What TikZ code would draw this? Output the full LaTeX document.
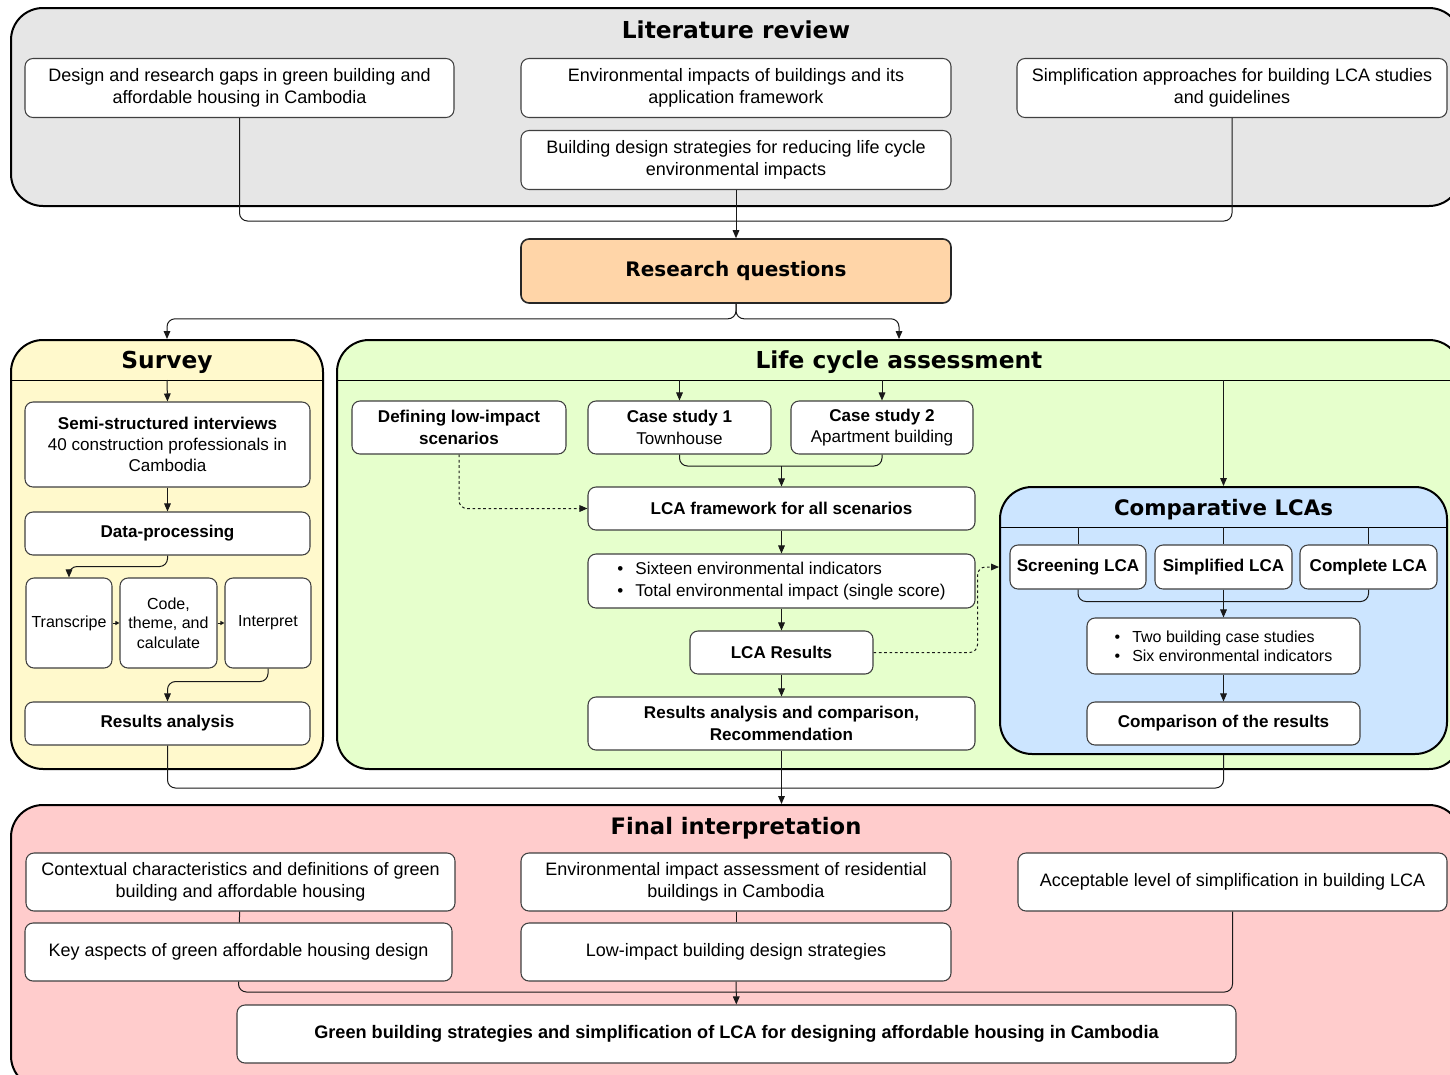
\documentclass[tikz,border=0pt]{standalone}
\usepackage{fontspec}
\setmainfont{Liberation Sans}
\newfontfamily\headfont{DejaVu Sans}
\usetikzlibrary{arrows.meta}

\definecolor{litgray}{HTML}{E6E6E6}
\definecolor{rqpeach}{HTML}{FFD5A8}
\definecolor{svyellow}{HTML}{FFF9CC}
\definecolor{lcagreen}{HTML}{E6FFCC}
\definecolor{cmpblue}{HTML}{CCE5FF}
\definecolor{finred}{HTML}{FFCCCC}

\tikzset{
  lane/.style={draw=black, line width=1.5pt, rounded corners=24pt, inner sep=0pt},
  box/.style={draw=black!75, fill=white, line width=0.8pt, rounded corners=6pt, align=center, inner sep=0pt},
  sz/.style 2 args={minimum width=#1*0.75pt, minimum height=#2*0.75pt},
  link/.style={draw=black!90, line width=0.75pt, rounded corners=6pt},
  arr/.style={link, -{Triangle[length=6pt,width=5pt]}},
  tinyarr/.style={link, -{Triangle[length=3pt,width=3pt]}},
  dotarr/.style={arr, dash pattern=on 2pt off 2pt},
  ttl/.style={font=\headfont\bfseries\fontsize{17.5}{20}\selectfont},
  txt/.style={font=\fontsize{13.5}{16.5}\selectfont},
  mid/.style={font=\fontsize{12.8}{16}\selectfont},
  sml/.style={font=\fontsize{12}{14.5}\selectfont},
}

\begin{document}
\begin{tikzpicture}[x=0.75pt,y=0.75pt,yscale=-1,xscale=1]
\useasboundingbox (0,0) rectangle (1450,1075);
\clip (0,0) rectangle (1450,1075);

% containers
\node[lane, fill=litgray, sz={1450}{198}] (litbox) at (736,107) {};
\node[lane, fill=svyellow, sz={312}{429}] (survey) at (167,554.5) {};
\node[lane, fill=lcagreen, sz={1124}{429}] (lca) at (899,554.5) {};
\node[lane, fill=cmpblue, sz={447}{267}] (comp) at (1223.5,620.5) {};
\node[lane, fill=finred, sz={1450}{283}] (final) at (736,946.5) {};

% header lines
\coordinate (svhead) at (167,380);
\coordinate (lcahead) at (899,380);
\coordinate (comphead) at (1223.5,527);
\draw[line width=0.6pt] (survey.west |- svhead) -- (survey.east |- svhead);
\draw[line width=0.6pt] (lca.west |- lcahead) -- (lca.east |- lcahead);
\draw[line width=0.6pt] (comp.west |- comphead) -- (comp.east |- comphead);

% titles
\node[ttl] (litttl) at (736,30) {Literature review};
\node[ttl] (svttl) at (167,362) {Survey};
\node[ttl] (lcattl) at (899,362) {Life cycle assessment};
\node[ttl, font=\headfont\bfseries\fontsize{16}{19}\selectfont] (compttl) at (1223.5,510) {Comparative LCAs};
\node[ttl, font=\headfont\bfseries\fontsize{17}{20}\selectfont] (finttl) at (736,828) {Final interpretation};

% literature review
\node[box, txt, sz={429}{59}] (gaps) at (239.5,88) {Design and research gaps in green building and\\affordable housing in Cambodia};
\node[box, txt, sz={430}{59}] (envimp) at (736,88) {Environmental impacts of buildings and its\\application framework};
\node[box, txt, sz={430}{59}] (simp) at (1232,88) {Simplification approaches for building LCA studies\\and guidelines};
\node[box, txt, sz={430}{59}] (strat) at (736,160) {Building design strategies for reducing life cycle\\environmental impacts};

% research questions
\node[box, fill=rqpeach, draw=black!85, line width=1.2pt, sz={430}{64}, font=\headfont\bfseries\fontsize{15}{18}\selectfont] (rq) at (736,271) {Research questions};

\coordinate (litjoin) at (736,221);
\draw[link] (gaps.south) |- (litjoin) -| (simp.south);
\draw[arr] (strat.south) -- (rq.north);
\draw[arr] (rq.south) -- ++(0,15) -| (survey.north);
\draw[arr] (rq.south) -- ++(0,15) -| (lca.north);

% survey
\node[box, mid, sz={285}{85}] (interviews) at (167.5,444.5) {\textbf{Semi-structured interviews}\\40 construction professionals in\\Cambodia};
\node[box, mid, sz={285}{43}] (dataproc) at (167.5,533.5) {\textbf{Data-processing}};
\node[box, sml, sz={86}{90}] (transcribe) at (69,623) {Transcripe};
\node[box, sml, sz={97}{90}] (coding) at (168.5,623) {Code,\\theme, and\\calculate};
\node[box, sml, sz={86}{90}] (interpret) at (268,623) {Interpret};
\node[box, mid, sz={285}{43}] (svresults) at (167.5,723.5) {\textbf{Results analysis}};

\draw[arr] (svhead) -- (interviews.north);
\draw[arr] (interviews) -- (dataproc);
\draw[arr] (dataproc.south) -- ++(0,11) -| (transcribe.north);
\draw[tinyarr] (transcribe) -- (coding);
\draw[tinyarr] (coding) -- (interpret);
\draw[arr] (interpret.south) -- ++(0,13) -| (svresults.north);

% life cycle assessment
\node[box, mid, sz={214}{53}] (lowimpact) at (459,427.5) {\textbf{Defining low-impact}\\\textbf{scenarios}};
\node[box, mid, sz={183}{53}] (case1) at (679.5,427.5) {\textbf{Case study 1}\\Townhouse};
\node[box, mid, sz={182}{53}] (case2) at (882,427.5) {\textbf{Case study 2}\\Apartment building};
\node[box, mid, sz={387}{43}] (framework) at (781.5,508.5) {\textbf{LCA framework for all scenarios}};
\node[box, mid, sz={387}{54}, align=left] (indicators) at (781.5,581) {\textbullet\hspace{9pt}Sixteen environmental indicators\\\textbullet\hspace{9pt}Total environmental impact (single score)};
\node[box, mid, sz={183}{43}] (lcares) at (781.5,652.5) {\textbf{LCA Results}};
\node[box, mid, sz={387}{53}] (recom) at (781.5,723.5) {\textbf{Results analysis and comparison,}\\\textbf{Recommendation}};

\coordinate (casejoin) at (781.5,466);
\draw[arr] (case1.north |- lcahead) -- (case1.north);
\draw[arr] (case2.north |- lcahead) -- (case2.north);
\draw[link] (case1.south) |- (casejoin) -| (case2.south);
\draw[arr] (casejoin) -- (framework.north);
\draw[dotarr] (lowimpact.south) |- (framework.west);
\draw[arr] (framework) -- (indicators);
\draw[arr] (indicators) -- (lcares);
\draw[arr] (lcares) -- (recom);
\draw[arr] (comp.north |- lcahead) -- (comp.north);

% comparative LCAs
\node[box, mid, sz={136}{44}] (screening) at (1078,567) {\textbf{Screening LCA}};
\node[box, mid, sz={137}{44}] (simplified) at (1223.5,567) {\textbf{Simplified LCA}};
\node[box, mid, sz={137}{44}] (complete) at (1368.5,567) {\textbf{Complete LCA}};
\node[box, sml, sz={273}{56}, align=left] (twocases) at (1223.5,646) {\textbullet\hspace{9pt}Two building case studies\\\textbullet\hspace{9pt}Six environmental indicators};
\node[box, mid, sz={273}{43}] (compres) at (1223.5,723.5) {\textbf{Comparison of the results}};

\draw[link] (screening.north |- comphead) -- (screening.north);
\draw[link] (simplified.north |- comphead) -- (simplified.north);
\draw[link] (complete.north |- comphead) -- (complete.north);
\draw[link] (screening.south) -- ++(0,12) -| (complete.south);
\draw[arr] (simplified) -- (twocases);
\draw[arr] (twocases) -- (compres);
\draw[dotarr] (lcares.east) -- ++(104,0) |- (comp.west |- screening.west);

% towards final interpretation
\coordinate (lowjoin) at (781.5,788);
\draw[link] (svresults.south) |- (lowjoin) -| (comp.south);
\draw[arr] (recom.south) -- (recom.south |- final.north);

% final interpretation
\node[box, txt, sz={429}{58}] (context) at (240.5,882) {Contextual characteristics and definitions of green\\building and affordable housing};
\node[box, txt, sz={430}{58}] (eia) at (736,882) {Environmental impact assessment of residential\\buildings in Cambodia};
\node[box, txt, sz={429}{58}] (acceptable) at (1232.5,882) {Acceptable level of simplification in building LCA};
\node[box, txt, sz={427}{58}] (keyaspects) at (238.5,952) {Key aspects of green affordable housing design};
\node[box, txt, sz={430}{58}] (lowstrat) at (736,952) {Low-impact building design strategies};
\node[box, font=\fontsize{13.6}{16}\selectfont, sz={999}{58}] (green) at (736.5,1034) {\textbf{Green building strategies and simplification of LCA for designing affordable housing in Cambodia}};

\coordinate (finjoin) at (736,992);
\draw[link] (context) -- (keyaspects);
\draw[link] (eia) -- (lowstrat);
\draw[link] (keyaspects.south) |- (finjoin) -| (acceptable.south);
\draw[arr] (lowstrat) -- (green);

\end{tikzpicture}
\end{document}
